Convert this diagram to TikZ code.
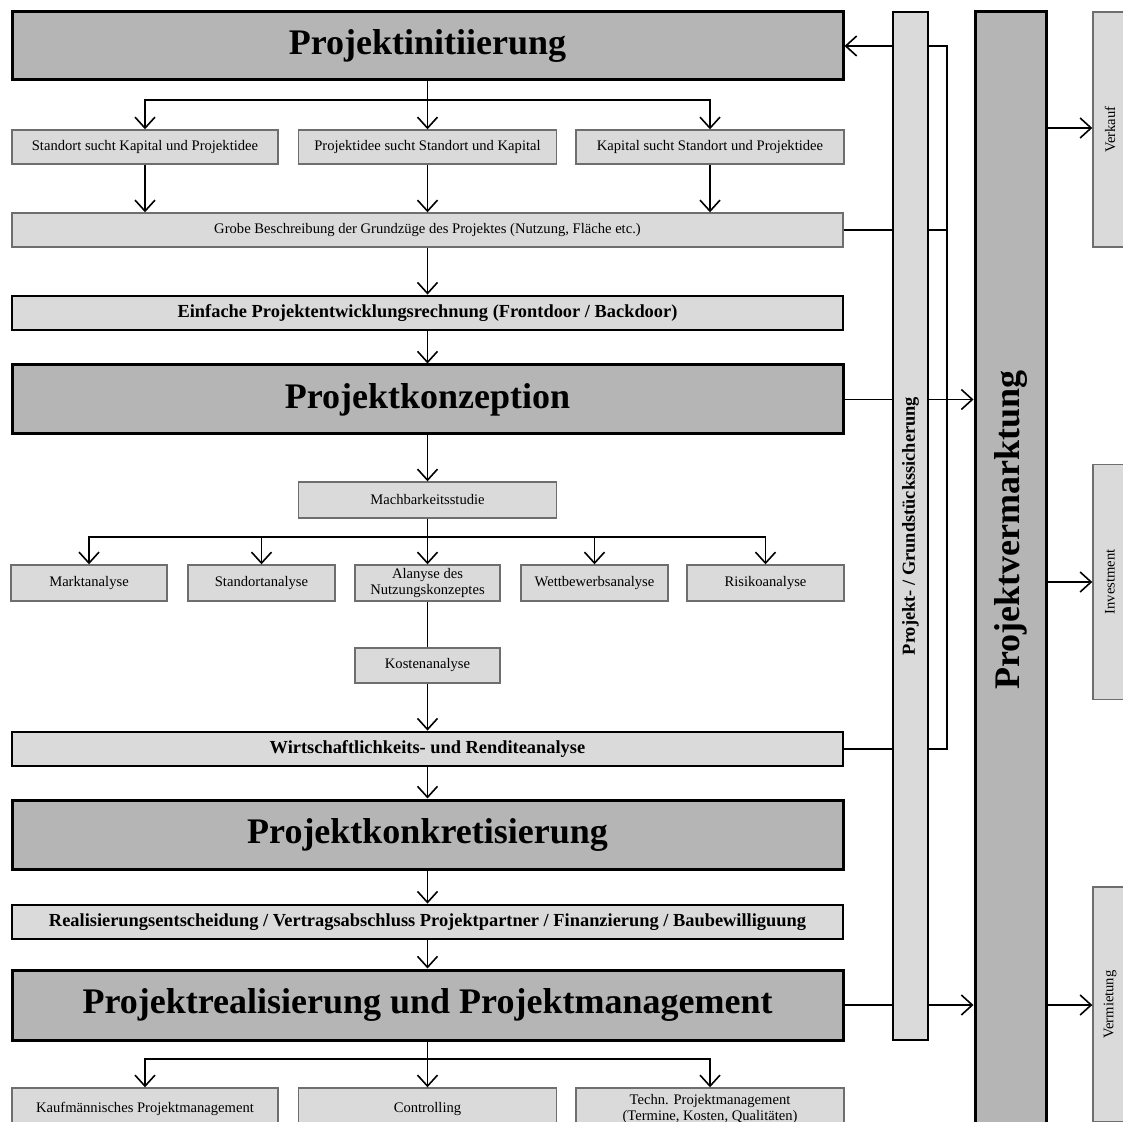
\documentclass[tikz,border=0pt]{standalone}
\usepackage{fontspec}
\setmainfont{Liberation Serif}
\usepackage{graphicx}
\usepackage{tikz}
\usetikzlibrary{arrows.meta}
\definecolor[named]{PhaseGray}{RGB}{181,181,181}
\definecolor[named]{StepGray}{RGB}{218,218,218}
\definecolor[named]{EdgeGray}{RGB}{110,110,110}
\tikzset{
  phase/.style={draw,line width=1.5pt,fill=PhaseGray,inner sep=0pt,
    font=\bfseries\fontsize{18}{20}\selectfont},
  keystep/.style={draw,line width=1.4pt,fill=StepGray,inner sep=0pt,
    font=\bfseries\fontsize{9.2}{10}\selectfont},
  substep/.style={draw=EdgeGray,line width=0.7pt,fill=StepGray,inner sep=0pt,
    align=center,font=\fontsize{7.3}{8}\selectfont},
  fullrow/.style={minimum width=415.5pt},
  wire/.style={line width=0.8pt},
  flow/.style={wire,-{Straight Barb[length=5.5pt,width=10pt]}},
}

\begin{document}
\begin{tikzpicture}[x=0.5pt,y=-0.5pt]
    % Page
    \useasboundingbox (0,0) rectangle (1123,1122);
    \fill[white] (0,0) rectangle (1123,1122);
    \clip (0,0) rectangle (1123,1122);
    % Left column
    \node[phase,fullrow,minimum height=34pt] (init) at (427.5,46) {Projektinitiierung};
    \node[substep,minimum width=133pt,minimum height=17pt] (idea1) at (145,147)
      {Standort sucht Kapital und Projektidee};
    \node[substep,minimum width=129pt,minimum height=17pt] (idea2) at (427.5,147)
      {Projektidee sucht Standort und Kapital};
    \node[substep,minimum width=134pt,minimum height=17pt] (idea3) at (710,147)
      {Kapital sucht Standort und Projektidee};
    \node[substep,fullrow,minimum height=17pt] (outline) at (427.5,230)
      {Grobe Beschreibung der Grundzüge des Projektes (Nutzung, Fläche etc.)};
    \node[keystep,fullrow,minimum height=17pt] (calc) at (427.5,313)
      {Einfache Projektentwicklungsrechnung (Frontdoor / Backdoor)};
    \node[phase,fullrow,minimum height=34.5pt] (concept) at (427.5,399.5) {Projektkonzeption};
    \node[substep,minimum width=129pt,minimum height=18pt] (feasible) at (427.5,500)
      {Machbarkeitsstudie};
    \node[substep,minimum width=78pt,minimum height=18pt] (mkt) at (89,583) {Marktanalyse};
    \node[substep,minimum width=73.5pt,minimum height=18pt] (site) at (261.5,583) {Standortanalyse};
    \node[substep,minimum width=72.5pt,minimum height=18pt] (usage) at (427.5,583)
      {Alanyse des\\Nutzungskonzeptes};
    \node[substep,minimum width=73.5pt,minimum height=18pt] (rivals) at (594.5,583) {Wettbewerbsanalyse};
    \node[substep,minimum width=78.5pt,minimum height=18pt] (risk) at (765.5,583) {Risikoanalyse};
    \node[substep,minimum width=72.5pt,minimum height=17.5pt] (cost) at (427.5,665.5) {Kostenanalyse};
    \node[keystep,fullrow,minimum height=17pt] (yield) at (427.5,749)
      {Wirtschaftlichkeits- und Renditeanalyse};
    \node[phase,fullrow,minimum height=34.5pt] (concrete) at (427.5,834.5) {Projektkonkretisierung};
    \node[keystep,fullrow,minimum height=17pt] (decision) at (427.5,922)
      {Realisierungsentscheidung / Vertragsabschluss Projektpartner / Finanzierung / Baubewilliguung};
    \node[phase,fullrow,minimum height=35pt] (realise) at (427.5,1005)
      {Projektrealisierung und Projektmanagement};
    \node[substep,minimum width=133pt,minimum height=21pt] (commerce) at (145,1109)
      {Kaufmännisches Projektmanagement};
    \node[substep,minimum width=129pt,minimum height=21pt] (control) at (427.5,1109) {Controlling};
    \node[substep,minimum width=134pt,minimum height=21pt] (tech) at (710,1109)
      {Techn. Projektmanagement\\(Termine, Kosten, Qualitäten)};
    % Right columns
    \node[keystep,minimum width=17.5pt,minimum height=514pt] (secure) at (910.5,526)
      {\rotatebox{90}{Projekt- / Grundstückssicherung}};
    \node[phase,minimum width=35.5pt,minimum height=566pt] (sales) at (1010.5,578) {};
    \node[font=\bfseries\fontsize{18}{20}\selectfont,inner sep=0pt] (saleslabel) at (1010.5,530)
      {\rotatebox{90}{Projektvermarktung}};
    \node[substep,minimum width=17pt,minimum height=117.5pt] (sell) at (1110,129.5)
      {\rotatebox{90}{Verkauf}};
    \node[substep,minimum width=17pt,minimum height=117.5pt] (invest) at (1110,582)
      {\rotatebox{90}{Investment}};
    \node[substep,minimum width=17pt,minimum height=117.5pt] (rent) at (1110,1004.5)
      {\rotatebox{90}{Vermietung}};
    % Wires, left column
    \coordinate (split1) at (init.south |- 0,100);
    \draw[flow] (init.south) -- (idea2.north);
    \draw[flow] (split1) -| (idea1.north);
    \draw[flow] (split1) -| (idea3.north);
    \foreach \n in {idea1,idea2,idea3}
      \draw[flow] (\n.south) -- (\n.south |- outline.north);
    \draw[flow] (outline.south) -- (calc.north);
    \draw[flow] (calc.south) -- (concept.north);
    \draw[flow] (concept.south) -- (feasible.north);
    \coordinate (split2) at (feasible.south |- 0,537);
    \draw[wire] (feasible.south) -- (split2);
    \foreach \n in {mkt,site,usage,rivals,risk}
      \draw[flow] (split2) -| (\n.north);
    \draw[wire] (usage.south) -- (cost.north);
    \draw[flow] (cost.south) -- (yield.north);
    \draw[flow] (yield.south) -- (concrete.north);
    \draw[flow] (concrete.south) -- (decision.north);
    \draw[flow] (decision.south) -- (realise.north);
    \coordinate (split3) at (realise.south |- 0,1059);
    \draw[wire] (realise.south) -- (split3);
    \foreach \n in {commerce,control,tech}
      \draw[flow] (split3) -| (\n.north);
    % Wires, right columns
    \coordinate (railtop) at (947,46);
    \coordinate (railbot) at (947,749);
    \draw[flow] (secure.west |- init.east) -- (init.east);
    \draw[wire] (secure.east |- init.east) -- (railtop) -- (railbot) -- (secure.east |- yield.east);
    \draw[wire] (outline.east) -- (secure.west |- outline.east);
    \draw[wire] (secure.east |- outline.east) -- (railtop |- outline.east);
    \draw[wire] (yield.east) -- (secure.west |- yield.east);
    \draw[wire] (concept.east) -- (secure.west |- concept.east);
    \draw[flow] (secure.east |- concept.east) -- (sales.west |- concept.east);
    \draw[wire] (realise.east) -- (secure.west |- realise.east);
    \draw[flow] (secure.east |- realise.east) -- (sales.west |- realise.east);
    \draw[flow] (sales.east |- 0,128) -- (sell.west |- 0,128);
    \draw[flow] (sales.east |- invest.west) -- (invest.west);
    \draw[flow] (sales.east |- realise.east) -- (rent.west |- realise.east);
\end{tikzpicture}
\end{document}
